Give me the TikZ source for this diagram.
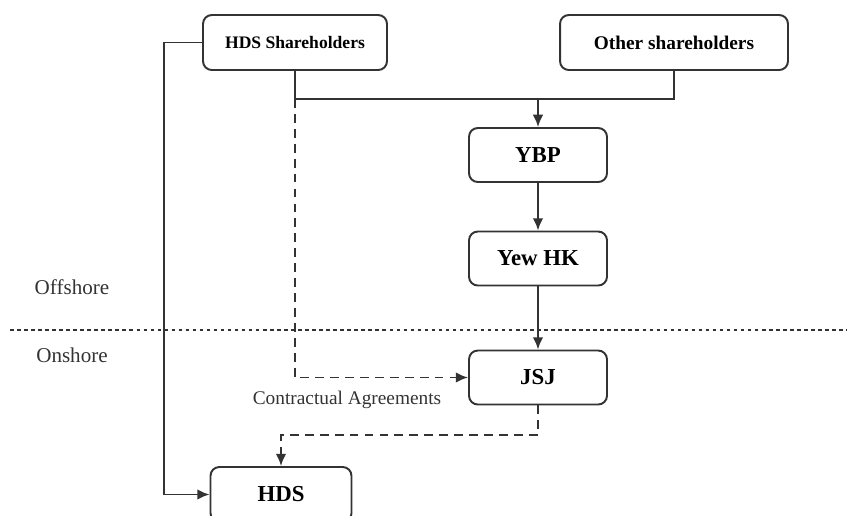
\documentclass[tikz,border=0pt]{standalone}
\usepackage{fontspec}
\setmainfont{Liberation Serif}
\usetikzlibrary{arrows,arrows.meta,shapes}
\usetikzlibrary{calc}
\tikzstyle{entity}=[rectangle,rounded corners=5pt,draw=black!80,line width=1.1pt,inner sep=0pt,font=\bfseries\fontsize{13}{15}\selectfont]
\tikzstyle{edge} = [draw,line width=1.1pt,black!80,-{Latex[length=7pt,width=6pt]}]
\tikzstyle{link} = [draw,line width=1.1pt,black!80]
\tikzstyle{contract} = [draw,line width=1.1pt,black!80,dash pattern=on 5pt off 3.5pt]
\tikzstyle{region} = [font=\fontsize{12}{14}\selectfont,text=black!80]

\begin{document}
\begin{tikzpicture}[x=0.02cm,y=-0.02cm]
    \useasboundingbox (0,0) rectangle (847,515);
    \clip (0,0) rectangle (847,515);
    % shareholders on top
    \node[entity,minimum width=3.68cm,minimum height=1.1cm,font=\bfseries\fontsize{10}{12}\selectfont] (HDSsh) at (295,42.5) {HDS Shareholders};
    \node[entity,minimum width=4.56cm,minimum height=1.1cm,font=\bfseries\fontsize{11}{13}\selectfont] (Other) at (674,42.5) {Other shareholders};

    % the chain of companies
    \foreach \pos/ \name/ \text in {{(538,155)/YBP/YBP},{(538,258.5)/YewHK/Yew HK},{(538,377.5)/JSJ/JSJ}}
        \node[entity,minimum width=2.76cm,minimum height=1.08cm] (\name) at \pos {\text};
    \node[entity,minimum width=2.82cm,minimum height=1.1cm] (HDS) at (281,494.5) {HDS};

    % offshore / onshore
    \draw[black!80,line width=1.3pt,dash pattern=on 2pt off 2pt] (10,330) -- (847,330);
    \node[region] (off) at (72,287) {Offshore};
    \node[region] (on) at (72,355) {Onshore};

    % ownership
    \coordinate (top) at (538,99);
    \coordinate (split) at (HDSsh.south |- top);
    \path[link] (HDSsh.south) |- (top) -| (Other.south);
    \path[edge] (top) -- (YBP);
    \foreach \source/ \dest in {YBP/YewHK, YewHK/JSJ}
        \path[edge] (\source) -- (\dest);
    \coordinate (leftc) at (164,42.5);
    \path[edge] (HDSsh.west) -- (leftc) |- (HDS.west);

    % contractual control
    \path[contract,-{Latex[length=7pt,width=6pt]}] (split) |- (JSJ.west);
    \coordinate (bend) at (538,435);
    \path[contract,-{Latex[length=7pt,width=6pt]}] (JSJ.south) -- (bend) -| (HDS.north);
    \node[region,font=\fontsize{11}{13}\selectfont] (ca) at (347,400) {Contractual Agreements};
\end{tikzpicture}
\end{document}
